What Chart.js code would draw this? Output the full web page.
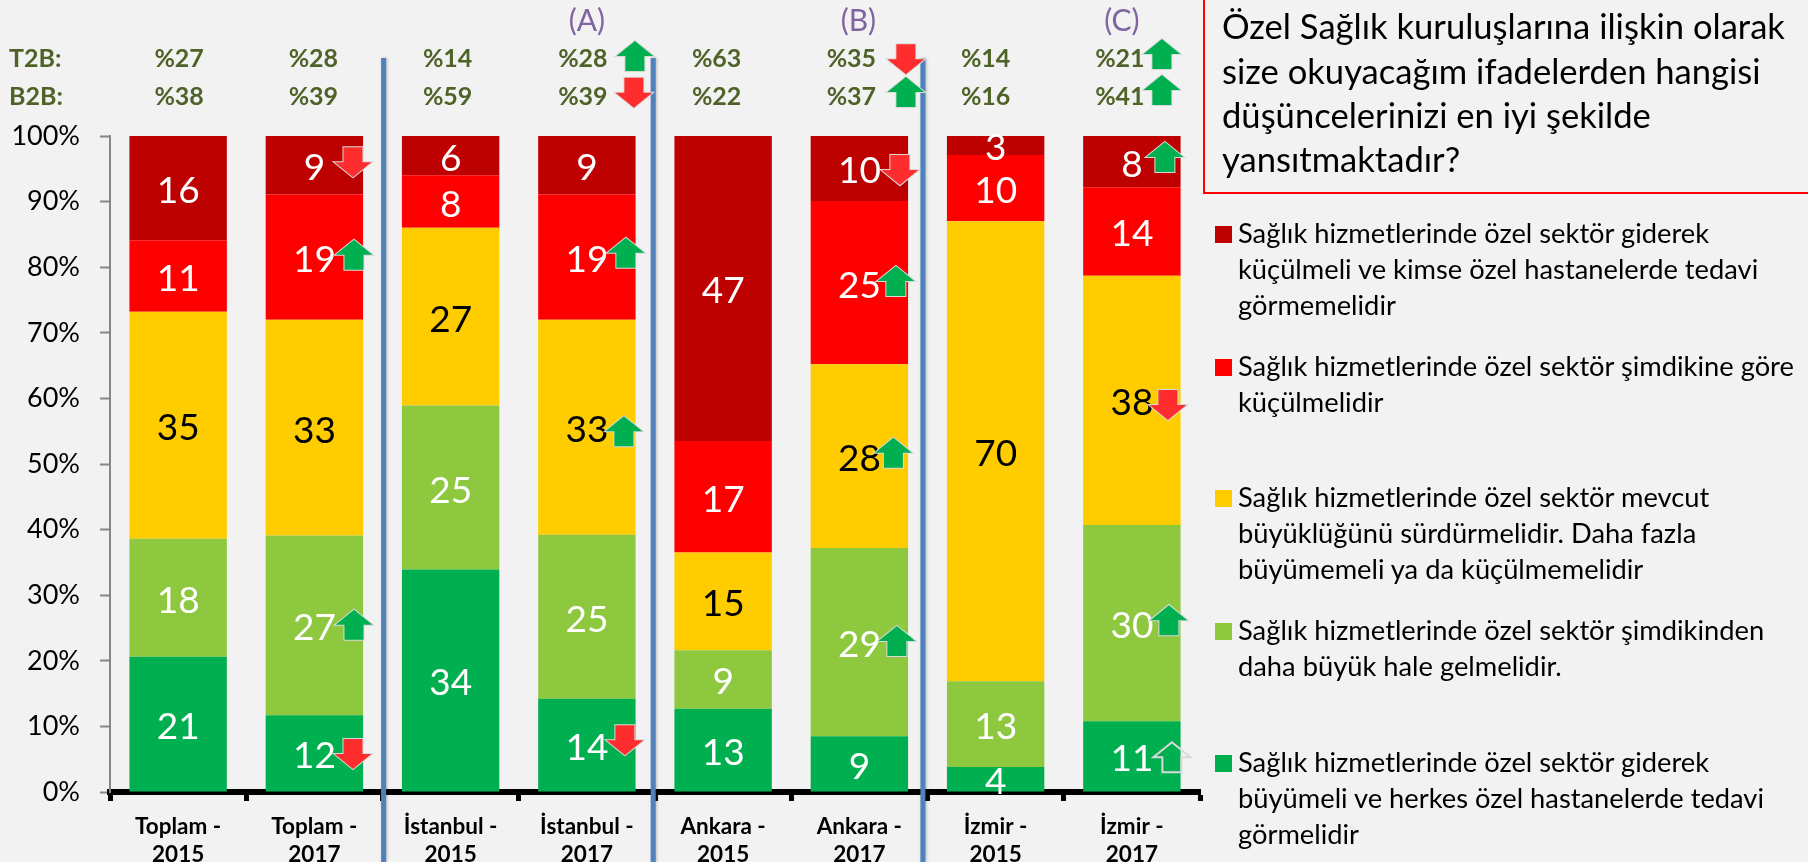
<!DOCTYPE html>
<html>
<head>
<meta charset="utf-8">
<script src="https://cdn.jsdelivr.net/npm/chart.js@4"></script>
<style>
  body { margin: 0; background: #f2f2f2; overflow: hidden; font-family: Lato, sans-serif; color: #000; }
  #wrap { position: relative; width: 1808px; height: 862px; overflow: hidden; }
  #question { position: absolute; left: 1203px; top: -10px; width: 640px; height: 200px; border: 2px solid #f00; box-sizing: content-box; }
  .qline, .lline { position: absolute; white-space: pre; }
  .qline { left: 1222px; line-height: 44px; }
  .lline { left: 1238px; line-height: 36px; }
  .swatch { position: absolute; left: 1215px; width: 17px; height: 17px; }
</style>
</head>
<body>
<div id="wrap">
  <canvas id="myChart" width="1808" height="862"></canvas>
  <div id="question"></div>
</div>
<script>
var categories = [["Toplam -", "2015"], ["Toplam -", "2017"], ["İstanbul -", "2015"], ["İstanbul -", "2017"],
                  ["Ankara -", "2015"], ["Ankara -", "2017"], ["İzmir -", "2015"], ["İzmir -", "2017"]];
// bar heights, the labels on the bars are these rounded
var buyumeHerkes = [20.6, 11.7, 33.9, 14.2, 12.7, 8.5, 3.8, 10.8];
var buyumeDaha = [18.0, 27.4, 25.0, 25.0, 8.9, 28.7, 13.1, 29.9];
var mevcut = [34.6, 32.9, 27.1, 32.8, 14.9, 28.0, 70.1, 38.0];
var kucul = [10.9, 19.1, 8.0, 19.1, 17.0, 24.9, 10.1, 13.5];
var kuculKimse = [15.9, 8.9, 6.0, 8.9, 46.5, 9.9, 2.9, 7.8];
var seriesColors = ["#00b050", "#8ec83f", "#ffcc00", "#ff0000", "#bd0000"];
var yTicks = [0, 10, 20, 30, 40, 50, 60, 70, 80, 90, 100];
var t2b = ["%27", "%28", "%14", "%28", "%63", "%35", "%14", "%21"];
var b2b = ["%38", "%39", "%59", "%39", "%22", "%37", "%16", "%41"];
var groupTags = { 3: "(A)", 5: "(B)", 7: "(C)" };
var questionLines = ["Özel Sağlık kuruluşlarına ilişkin olarak", "size okuyacağım ifadelerden hangisi", "düşüncelerinizi en iyi şekilde", "yansıtmaktadır?"];
var legendLines = [
  ["Sağlık hizmetlerinde özel sektör giderek", "küçülmeli ve kimse özel hastanelerde tedavi", "görmemelidir"],
  ["Sağlık hizmetlerinde özel sektör şimdikine göre", "küçülmelidir"],
  ["Sağlık hizmetlerinde özel sektör mevcut", "büyüklüğünü sürdürmelidir. Daha fazla", "büyümemeli ya da küçülmemelidir"],
  ["Sağlık hizmetlerinde özel sektör şimdikinden", "daha büyük hale gelmelidir."],
  ["Sağlık hizmetlerinde özel sektör giderek", "büyümeli ve herkes özel hastanelerde tedavi", "görmelidir"]
];
// bar index, height on the % axis, dx from the bar centre, kind
var arrows = [
  [1, 96.0, 38.6, "down"], [1, 81.9, 39.6, "up"], [1, 25.5, 39.6, "up"], [1, 5.8, 38.6, "down"],
  [3, 112.2, 48, "up"], [3, 106.6, 47, "down"], [3, 82.2, 39, "up"], [3, 55, 37, "up"], [3, 7.9, 38, "down"],
  [5, 111.7, 46.5, "down"], [5, 106.7, 46.5, "up"], [5, 94.8, 40.5, "down"], [5, 77.9, 36.5, "up"], [5, 51.7, 34, "up"], [5, 23, 37.5, "up"],
  [7, 112.5, 30, "up"], [7, 107, 30, "up"], [7, 96.8, 33, "up"], [7, 59, 36, "down"], [7, 26.2, 37, "up"], [7, 5.3, 40, "hollow"]
];

var allSeries = [buyumeHerkes, buyumeDaha, mevcut, kucul, kuculKimse];

// font size that makes a line as wide as it is in the picture
var measure = document.createElement("canvas").getContext("2d");
function fitFont(text, targetWidth) {
  measure.font = "100px Lato";
  return targetWidth / measure.measureText(text).width * 100;
}
var questionFont = fitFont(questionLines[0], 563);
var legendFont = fitFont(legendLines[0][0], 472);

// right hand text
var wrap = document.getElementById("wrap");
function addLine(cls, text, centerY, lineH, size) {
  var d = document.createElement("div");
  d.className = cls;
  d.textContent = text;
  d.style.top = (centerY - lineH / 2) + "px";
  d.style.fontSize = size + "px";
  wrap.appendChild(d);
}
[26, 70.5, 115, 159].forEach(function (y, i) { addLine("qline", questionLines[i], y, 44, questionFont); });
var legendTop = [233, 366, 497, 630, 762];
var legendColor = seriesColors.slice().reverse();
legendLines.forEach(function (lines, i) {
  var s = document.createElement("div");
  s.className = "swatch";
  s.style.top = (legendTop[i] - 7) + "px";
  s.style.background = legendColor[i];
  wrap.appendChild(s);
  lines.forEach(function (t, j) { addLine("lline", t, legendTop[i] + j * 36, 36, legendFont); });
});

function drawArrow(ctx, cx, cy, kind) {
  var dir = kind === "down" ? -1 : 1;
  ctx.save();
  ctx.translate(cx, cy);
  ctx.scale(1, dir);
  ctx.beginPath();
  ctx.moveTo(0, -15);
  ctx.lineTo(18.5, 0);
  ctx.lineTo(9.5, 0);
  ctx.lineTo(9.5, 15);
  ctx.lineTo(-9.5, 15);
  ctx.lineTo(-9.5, 0);
  ctx.lineTo(-18.5, 0);
  ctx.closePath();
  ctx.lineWidth = 2;
  ctx.strokeStyle = "#d9d9d9";
  ctx.stroke();
  if (kind === "up") { ctx.fillStyle = "#00b050"; ctx.fill(); }
  if (kind === "down") { ctx.fillStyle = "#ff2d2d"; ctx.fill(); }
  ctx.restore();
}

var overlay = {
  id: "overlay",
  afterDraw: function (chart) {
    var ctx = chart.ctx, x = chart.scales.x, y = chart.scales.y;
    ctx.save();

    // blue separators between the cities
    [[1, 1.1], [3, -1.8], [5, -4.6]].forEach(function (sep) {
      var sx = (x.getPixelForValue(sep[0]) + x.getPixelForValue(sep[0] + 1)) / 2 + sep[1];
      ctx.save();
      ctx.shadowColor = "rgba(0,0,0,0.25)";
      ctx.shadowBlur = 3;
      ctx.shadowOffsetX = 1;
      ctx.fillStyle = "#4f81bd";
      ctx.fillRect(sx - 2.5, 58, 5, 804);
      ctx.restore();
    });

    // values inside the bars
    ctx.textAlign = "center";
    ctx.textBaseline = "middle";
    ctx.font = "37px Lato";
    chart.data.datasets.forEach(function (ds, d) {
      chart.getDatasetMeta(d).data.forEach(function (bar, i) {
        ctx.fillStyle = d === 2 ? "#000" : "#fff";
        ctx.fillText(String(Math.round(allSeries[d][i])), bar.x, (bar.y + bar.base) / 2 + 3);
      });
    });

    // T2B / B2B rows, they sit a bit left of the bars
    ctx.font = "bold 25px Lato";
    ctx.fillStyle = "#4f6228";
    ctx.textAlign = "left";
    ctx.fillText("T2B:", 9, 59);
    ctx.fillText("B2B:", 9, 97);
    ctx.textAlign = "center";
    var rowShift = [1, -1, -3, -4, -6.5, -8, -10, -12];
    t2b.forEach(function (t, i) {
      var px = x.getPixelForValue(i) + rowShift[i];
      ctx.fillText(t, px, 59);
      ctx.fillText(b2b[i], px, 97);
    });

    ctx.font = "30px Lato";
    ctx.fillStyle = "#8064a2";
    var tagShift = { 3: 0, 5: -1, 7: -10 };
    Object.keys(groupTags).forEach(function (i) {
      ctx.fillText(groupTags[i], x.getPixelForValue(+i) + tagShift[i], 21);
    });

    arrows.forEach(function (a) {
      drawArrow(ctx, x.getPixelForValue(a[0]) + a[2], y.getPixelForValue(a[1]), a[3]);
    });
    ctx.restore();
  }
};

var names = legendLines.map(function (l) { return l.join(" "); }).reverse();
var ctx = document.getElementById("myChart").getContext("2d");
var myChart = new Chart(ctx, {
  type: "bar",
  data: {
    labels: categories,
    datasets: allSeries.map(function (s, i) {
      return {
        label: names[i], data: s, backgroundColor: seriesColors[i],
        barPercentage: 0.715, categoryPercentage: 1
      };
    })
  },
  plugins: [overlay],
  options: {
    responsive: false,
    animation: false,
    layout: { padding: { left: 0, top: 136, right: 608, bottom: 0 } },
    plugins: { legend: { display: false }, tooltip: { enabled: false } },
    scales: {
      x: {
        stacked: true,
        z: 1,
        afterFit: function (s) { s.height = 70; },
        border: { color: "#000", width: 6 },
        grid: { drawOnChartArea: false, color: "#000", tickWidth: 5, tickLength: 9, offset: true },
        ticks: { color: "#000", font: { family: "Lato", size: 22.5, weight: "bold", lineHeight: 1.25 }, maxRotation: 0, autoSkip: false, padding: 12 }
      },
      y: {
        stacked: true,
        min: 0,
        max: 100,
        afterFit: function (s) { s.width = 110; },
        afterBuildTicks: function (s) { s.ticks = yTicks.map(function (v) { return { value: v }; }); },
        border: { color: "#868686", width: 2 },
        grid: { drawOnChartArea: false, color: "#868686", tickWidth: 2, tickLength: 10 },
        ticks: { color: "#000", font: { family: "Lato", size: 27 }, padding: 20, callback: function (v) { return v + "%"; } }
      }
    }
  }
});
</script>
</body>
</html>
